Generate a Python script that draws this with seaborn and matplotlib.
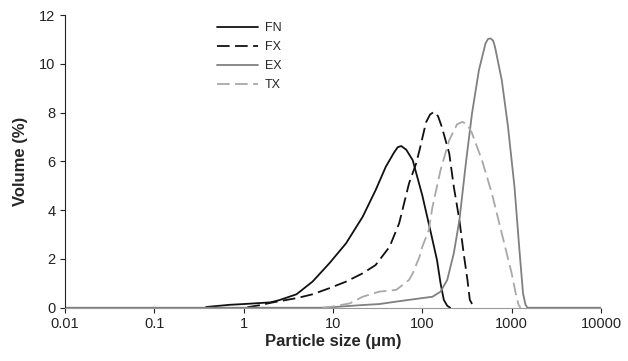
import pandas as pd
import seaborn as sns
import matplotlib.pyplot as plt

# particle size distributions (size in um, volume %)
fn_size = [0.38, 0.7, 1.0, 2.0, 2.5, 3.9, 5.9, 9.1, 14, 21.5, 30, 39, 48, 53, 58, 66, 78,
           100, 125, 146, 160, 174, 190, 205]
fn_vol = [0.03, 0.12, 0.15, 0.22, 0.31, 0.55, 1.07, 1.82, 2.64, 3.73, 4.82, 5.78, 6.35,
          6.58, 6.63, 6.48, 6.05, 4.6, 3.05, 1.95, 1.0, 0.32, 0.08, 0.0]

fx_size = [1.1, 1.5, 2.0, 4.0, 5.9, 9.1, 14, 21.5, 30, 43, 55, 71, 85, 93, 110, 122,
           135, 150, 165, 200, 225, 260, 290, 320, 340, 370, 390]
fx_vol = [0.02, 0.1, 0.2, 0.4, 0.55, 0.8, 1.07, 1.41, 1.75, 2.5, 3.46, 5.1, 5.9, 6.46,
          7.6, 7.92, 8.03, 7.85, 7.42, 6.33, 4.96, 3.59, 2.23, 1.14, 0.32, 0.08, 0.0]

ex_size = [0.01, 8, 21.5, 33, 51, 93, 130, 160, 190, 225, 260, 310, 360, 430, 510, 545,
           580, 620, 650, 775, 910, 1075, 1230, 1340, 1430, 1500, 10000]
ex_vol = [0.0, 0.0, 0.11, 0.15, 0.25, 0.38, 0.45, 0.66, 1.14, 2.23, 3.59, 6.05, 7.97,
          9.74, 10.84, 11.02, 11.04, 10.95, 10.7, 9.33, 7.42, 4.96, 2.23, 0.59, 0.12,
          0.0, 0.0]

tx_size = [7.6, 10, 15.5, 21.5, 33, 51, 71, 78, 93, 100, 118, 130, 160, 200, 245, 280,
           320, 360, 465, 600, 775, 1000, 1130, 1200, 1260]
tx_vol = [0.0, 0.05, 0.18, 0.45, 0.66, 0.73, 1.14, 1.41, 2.09, 2.5, 3.18, 4.14, 5.64,
          6.87, 7.52, 7.62, 7.5, 7.15, 6.05, 4.69, 3.05, 1.41, 0.45, 0.1, 0.0]

samples = ['FN', 'FX', 'EX', 'TX']
colors = {'FN': '#111111', 'FX': '#111111', 'EX': '#808080', 'TX': '#a8a8a8'}
dash_styles = {'FN': '', 'FX': (7, 3), 'EX': '', 'TX': (7, 3)}

x_ticks = [0.01, 0.1, 1, 10, 100, 1000, 10000]
x_labels = ['0.01', '0.1', '1', '10', '100', '1000', '10000']
y_ticks = [0, 2, 4, 6, 8, 10, 12]

df = pd.concat([
    pd.DataFrame({'size': fn_size, 'volume': fn_vol, 'sample': 'FN'}),
    pd.DataFrame({'size': fx_size, 'volume': fx_vol, 'sample': 'FX'}),
    pd.DataFrame({'size': ex_size, 'volume': ex_vol, 'sample': 'EX'}),
    pd.DataFrame({'size': tx_size, 'volume': tx_vol, 'sample': 'TX'}),
])

sns.set_style('ticks')
plt.rcParams['font.family'] = ['Liberation Sans', 'DejaVu Sans']

fig = plt.figure(figsize=(6.28, 3.61), dpi=100)
ax = fig.add_axes([0.1035, 0.1476, 0.8535, 0.8108])

sns.lineplot(
    data=df, x='size', y='volume',
    hue='sample', style='sample',
    hue_order=samples, style_order=samples,
    palette=colors, dashes=dash_styles,
    estimator=None, sort=False, linewidth=1.3,
    ax=ax
)

ax.set_xscale('log')
ax.set_xlim(0.01, 10000)
ax.set_ylim(0, 12)
ax.set_xticks(x_ticks)
ax.set_xticklabels(x_labels)
ax.minorticks_off()
ax.set_yticks(y_ticks)
ax.tick_params(labelsize=10.5, length=3.5, width=0.8, colors='#222222')

ax.spines['top'].set_visible(False)
ax.spines['right'].set_visible(False)
ax.spines['left'].set_color('#222222')
ax.spines['bottom'].set_color('#999999')

ax.set_xlabel('Particle size (μm)', fontsize=12, fontweight='bold', labelpad=2)
ax.set_ylabel('Volume (%)', fontsize=12, fontweight='bold', labelpad=8)

ax.legend(
    frameon=False, loc='upper left', bbox_to_anchor=(0.2836, 0.975),
    borderpad=0, borderaxespad=0, fontsize=9, handlelength=3.3,
    handletextpad=0.5, labelspacing=0.55
)

plt.savefig('out.png', dpi=100)
plt.close()
